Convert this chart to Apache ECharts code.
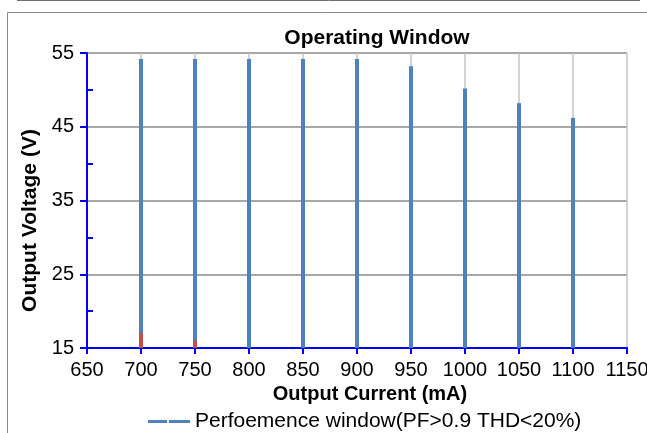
<!DOCTYPE html>
<html>
<head>
<meta charset="utf-8">
<script src="https://cdn.jsdelivr.net/npm/echarts@6/dist/echarts.min.js"></script>
<style>
  html, body { margin: 0; padding: 0; background: #fff; }
  #chart { width: 647px; height: 433px; }
</style>
</head>
<body>
<div id="chart"></div>
<script>
// 电流 (mA)
const currents = [700, 750, 800, 850, 900, 950, 1000, 1050, 1100]
// 最大输出电压 (V)
const maxVoltage = [54.2, 54.2, 54.2, 54.2, 54.2, 53.2, 50.2, 48.2, 46.2]
// 底部红色段
const lowCurrents = [700, 750]
const lowVoltage = [17, 16]
const minorTicks = [20, 30, 40, 50]

const chart = echarts.init(document.getElementById('chart'))
const font = 'Liberation Sans, Arial, sans-serif'

chart.setOption({
    animation: false,
    textStyle: { fontFamily: font },
    title: {
        text: 'Operating Window',
        left: 372,
        top: 23,
        textAlign: 'center',
        textStyle: { fontSize: 21, fontWeight: 'bold', color: '#000', fontFamily: font }
    },
    graphic: [
        { type: 'rect', shape: { x: 7.5, y: 12.5, width: 660, height: 440 }, style: { fill: 'none', stroke: '#8c8c8c', lineWidth: 1 } },
        { type: 'line', shape: { x1: 17, y1: 0.5, x2: 640, y2: 0.5 }, style: { stroke: '#6f6f6f', lineWidth: 1 } }
    ],
    legend: {
        data: ['Perfoemence window(PF>0.9 THD<20%)'],
        left: 143,
        top: 406,
        icon: 'path://M0,0H19V3H0Z M21,0H42V3H21Z',
        itemWidth: 42,
        itemHeight: 3,
        itemGap: 4,
        textStyle: { fontSize: 21, color: '#000', fontFamily: font }
    },
    grid: { left: 87, right: 20, top: 53, bottom: 85, outerBoundsMode: 'none' },
    xAxis: {
        type: 'value',
        min: 650,
        max: 1150,
        interval: 50,
        name: 'Output Current (mA)',
        nameLocation: 'middle',
        nameGap: 35,
        nameTextStyle: { fontSize: 20, fontWeight: 'bold', color: '#000', padding: [0, 0, 0, 26] },
        axisLine: { lineStyle: { color: '#0000ff', width: 2 } },
        axisTick: { show: true, length: 6, lineStyle: { color: '#0000ff', width: 2 } },
        axisLabel: { fontSize: 20, color: '#000', margin: 12, formatter: v => String(v) },
        splitLine: { show: true, lineStyle: { color: '#c4c4c4', width: 1.5 } }
    },
    yAxis: [
        {
            type: 'value',
            min: 15,
            max: 55,
            interval: 10,
            name: 'Output Voltage (V)',
            nameLocation: 'middle',
            nameGap: 45,
            nameTextStyle: { fontSize: 21, fontWeight: 'bold', color: '#000', padding: [0, 40, 0, 0] },
            axisLine: { show: true, lineStyle: { color: '#0000ff', width: 2 } },
            axisTick: { show: true, length: 7, lineStyle: { color: '#0000ff', width: 2 } },
            axisLabel: { fontSize: 20, color: '#000', margin: 13 },
            splitLine: { show: true, lineStyle: { color: '#8a8a8a', width: 1.5 } }
        },
        {
            type: 'value',
            min: 15,
            max: 55,
            position: 'left',
            axisLine: { show: false },
            axisTick: {
                show: true, inside: true, length: 6,
                customValues: minorTicks,
                lineStyle: { color: '#0000ff', width: 2 }
            },
            axisLabel: { show: false },
            splitLine: { show: false }
        }
    ],
    series: [
        {
            name: 'Perfoemence window(PF>0.9 THD<20%)',
            type: 'bar',
            barWidth: 4,
            barGap: '-100%',
            itemStyle: { color: '#4f81bd' },
            data: currents.map((c, i) => [c, maxVoltage[i]])
        },
        {
            name: 'low',
            type: 'bar',
            barWidth: 4,
            barGap: '-100%',
            itemStyle: { color: '#c0504d' },
            data: lowCurrents.map((c, i) => [c, lowVoltage[i]])
        }
    ]
})

window.addEventListener('resize', () => {
    chart.resize()
})
</script>
</body>
</html>
